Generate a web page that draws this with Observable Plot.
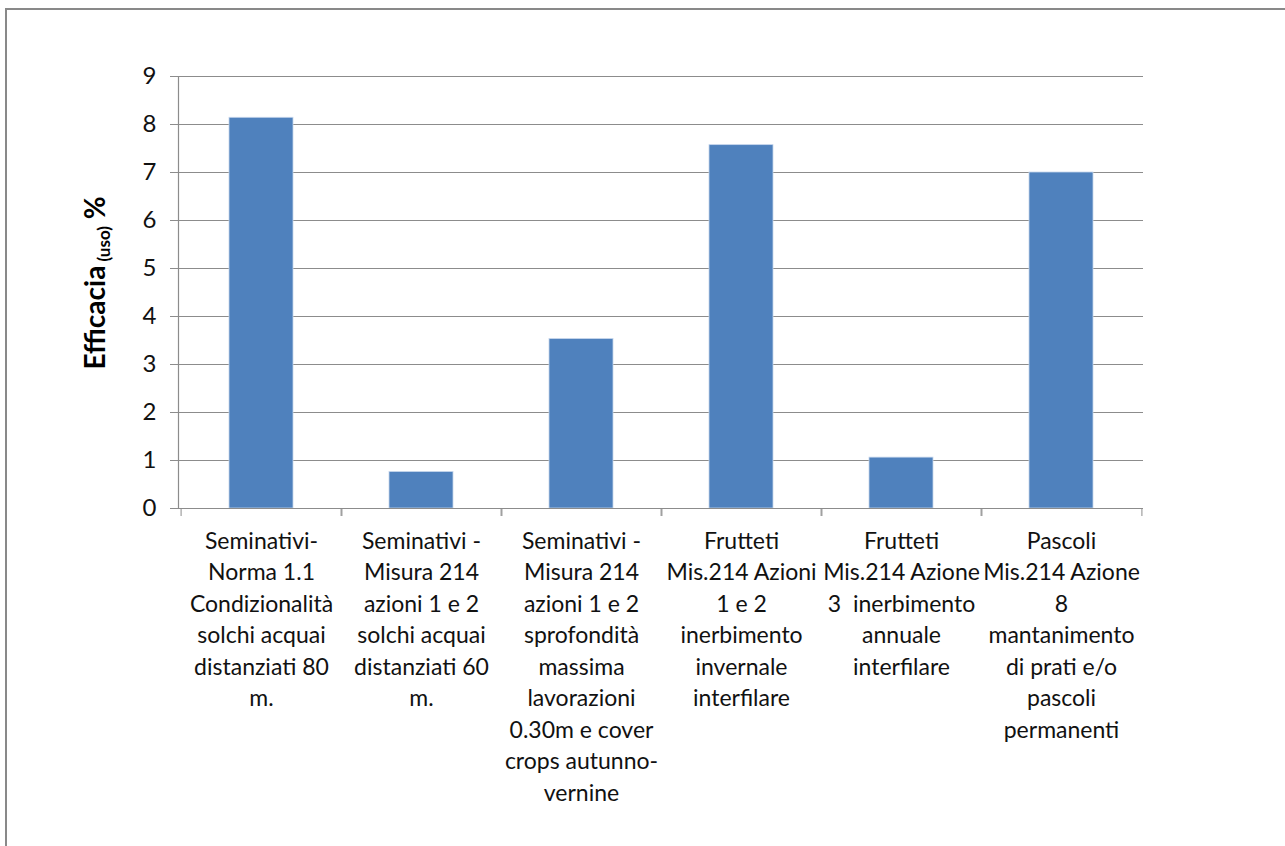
<!DOCTYPE html>
<html>
<head>
<meta charset="utf-8">
<script src="https://cdn.jsdelivr.net/npm/d3@7"></script>
<script src="https://cdn.jsdelivr.net/npm/@observablehq/plot@0.6"></script>
<style>
  html, body { margin: 0; padding: 0; background: #fff; overflow: hidden; }
  #wrap { position: relative; width: 1285px; height: 846px; overflow: hidden; }
  #frame { position: absolute; left: 5px; top: 8px; width: 1400px; height: 1000px; border: 2px solid #898989; box-sizing: border-box; pointer-events: none; }
  #chart { position: absolute; left: 0; top: 0; }
</style>
</head>
<body>
<div id="wrap">
  <div id="chart"></div>
  <div id="frame"></div>
</div>
<script>
// ---- data ----
const categories = [
  "Seminativi-\nNorma 1.1\nCondizionalità\nsolchi acquai\ndistanziati 80\nm.",
  "Seminativi -\nMisura 214\nazioni 1 e 2\nsolchi acquai\ndistanziati 60\nm.",
  "Seminativi -\nMisura 214\nazioni 1 e 2\nsprofondità\nmassima\nlavorazioni\n0.30m e cover\ncrops autunno-\nvernine",
  "Frutteti\nMis.214 Azioni\n1 e 2\ninerbimento\ninvernale\ninterfilare",
  "Frutteti\nMis.214 Azione\n3  inerbimento\nannuale\ninterfilare",
  "Pascoli\nMis.214 Azione\n8\nmantanimento\ndi prati e/o\npascoli\npermanenti"
];
const values = [8.14, 0.76, 3.53, 7.57, 1.06, 7.0];
const yTicks = [0, 1, 2, 3, 4, 5, 6, 7, 8, 9];

const data = categories.map((c, i) => ({cat: c, value: values[i]}));

const W = 1285, H = 846;
const mL = 178, mR = 142, mT = 76, mB = 338;
const step = (W - mL - mR) / categories.length;
const gray = "#8c8c8c";
const font = "Lato, 'Open Sans', sans-serif";

const chart = Plot.plot({
  width: W,
  height: H,
  marginLeft: mL,
  marginRight: mR,
  marginTop: mT,
  marginBottom: mB,
  style: {fontFamily: font, background: "transparent", color: "#000"},
  x: {domain: categories, paddingInner: 0.6, paddingOuter: 0.3, axis: null},
  y: {domain: [0, 9], axis: null},
  marks: [
    Plot.gridY(yTicks, {stroke: gray, strokeOpacity: 1, strokeWidth: 1.2}),
    Plot.barY(data, {x: "cat", y: "value", fill: "#4F81BD", stroke: "#c6d6ec", strokeWidth: 0.8}),
    Plot.ruleY([0], {stroke: gray, strokeWidth: 1.2}),
    Plot.frame({anchor: "left", stroke: gray, strokeWidth: 1.2}),
    Plot.axisY(yTicks, {tickSize: 8, tickPadding: 14, fontSize: 24, stroke: gray, fill: "#111", label: null, tickFormat: d => String(d)}),
    Plot.axisX({tickSize: 8, tickFormat: () => "", label: null, stroke: gray, dx: -step / 2}),
    Plot.axisX({tickSize: 8, tickFormat: () => "", label: null, stroke: gray, dx: step / 2}),
    Plot.axisX({tickSize: 0, tickPadding: 18, fontSize: 23, lineHeight: 1.37, fill: "#111", label: null, tickFormat: d => d})
  ]
});
document.getElementById("chart").appendChild(chart);

// y-axis title with subscript
const svg = d3.select(chart);
const t = svg.append("text")
  .attr("transform", "translate(105,283) rotate(-90)")
  .attr("text-anchor", "middle")
  .attr("font-family", font)
  .attr("font-weight", "bold")
  .attr("fill", "#000")
  .attr("font-size", 28);
t.append("tspan").text("Efficacia");
t.append("tspan").attr("font-size", 17).attr("dy", 5).text(" (uso)");
t.append("tspan").attr("dy", -5).text(" %");
</script>
</body>
</html>
